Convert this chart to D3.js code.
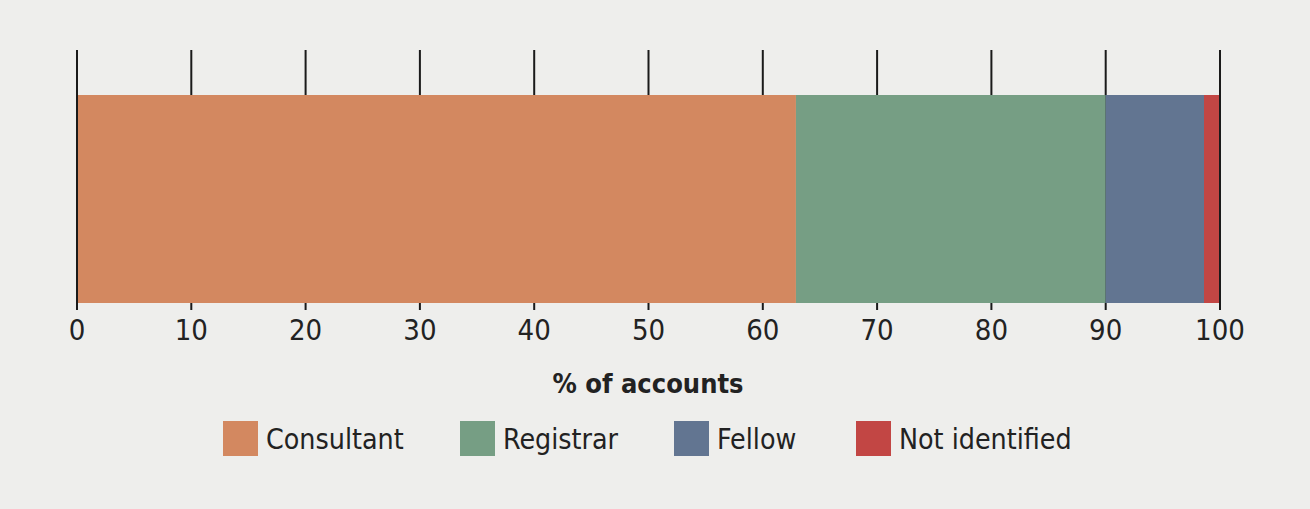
<!DOCTYPE html>
<html><head><meta charset="utf-8">
<script src="https://cdn.jsdelivr.net/npm/d3@7"></script>
<style>
html,body{margin:0;padding:0;background:#eeeeec;}
svg{display:block;}
text{font-family:"Liberation Sans Narrow","DejaVu Sans Condensed","Roboto",sans-serif;fill:#222;}
</style></head>
<body><svg id="c" width="1310" height="509"></svg>
<script>
const categories = ["Consultant","Registrar","Fellow","Not identified"];
const values = [62.9, 27.1, 8.6, 1.4];
const colors = ["#d38860","#769e84","#627591","#c24644"];
const tickValues = [0,10,20,30,40,50,60,70,80,90,100];
const axisTitle = "% of accounts";

const svg = d3.select("#c");
const x = d3.scaleLinear().domain([0,100]).range([77,1220]);
const barTop = 95, barBottom = 303;

svg.append("g").selectAll("line").data(tickValues).join("line")
  .attr("x1",d=>x(d)).attr("x2",d=>x(d))
  .attr("y1",50).attr("y2",310)
  .attr("stroke","#1a1a1a").attr("stroke-width",2);

let cum = 0;
const segs = values.map((v,i)=>{const s={start:cum,end:cum+v,i}; cum+=v; return s;});
svg.append("g").selectAll("rect").data(segs).join("rect")
  .attr("x",d=>x(d.start)+(d.i===0?1:0))
  .attr("width",d=>x(d.end)-x(d.start)-(d.i===0?1:0)-(d.i===3?1:0))
  .attr("y",barTop).attr("height",barBottom-barTop)
  .attr("fill",d=>colors[d.i]);

svg.append("g").selectAll("text").data(tickValues).join("text")
  .attr("x",d=>x(d)).attr("y",340)
  .attr("text-anchor","middle").attr("font-size",29)
  .text(d=>d);

svg.append("text").attr("x",648).attr("y",393).attr("text-anchor","middle")
  .attr("font-size",27).attr("font-weight","bold").text(axisTitle);

const legendX = [223,460,674,856];
const lg = svg.append("g").selectAll("g").data(categories).join("g")
  .attr("transform",(d,i)=>`translate(${legendX[i]},421)`);
lg.append("rect").attr("width",35).attr("height",35).attr("fill",(d,i)=>colors[i]);
lg.append("text").attr("x",43).attr("y",28).attr("font-size",28.3).text(d=>d);
</script></body></html>
